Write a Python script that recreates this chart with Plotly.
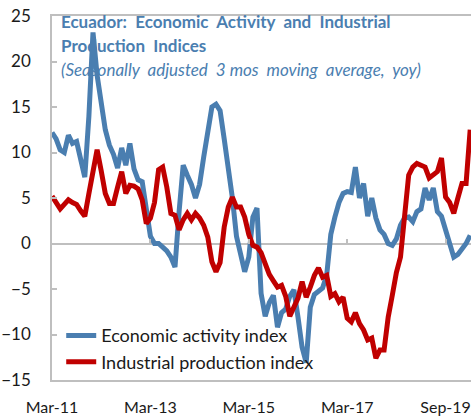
import plotly.graph_objects as go

# month index from Mar-11
months = list(range(103))

econ_activity = [
    12.2, 11.5, 10.3, 10.0, 11.9, 11.0, 11.2, 9.0, 7.3, 14.0,
    23.2, 18.5, 15.5, 12.5, 10.8, 9.8, 8.3, 10.5, 8.6, 11.0,
    8.2, 7.0, 6.8, 4.0, 0.8, 0.0, 0.0, -0.4, -0.8, -1.5,
    -2.6, 3.5, 8.6, 7.5, 6.5, 5.0, 6.5, 9.5, 12.5, 15.0,
    15.3, 14.6, 11.5, 8.5, 5.0, 0.8, -1.3, -3.1, -1.5, 2.9,
    3.9, -5.5, -8.0, -6.5, -5.7, -9.2, -7.6, -7.2, -5.8, -5.1,
    -8.1, -11.4, -13.1, -7.0, -5.6, -5.3, -4.9, -3.5, 1.0, 2.9,
    4.5, 5.5, 5.7, 5.6, 8.4, 5.0, 6.6, 3.0, 5.0, 2.8,
    1.5, 1.0, 0.0, -0.2, 0.5, 2.0, 2.8, 2.9, 2.4, 3.5,
    3.8, 6.1, 4.8, 6.1, 3.5, 3.0, 1.5, 0.0, -1.5, -1.2,
    -0.6, 0.0, 0.9,
]

industrial_production = [
    5.2, 4.5, 3.8, 4.3, 4.8, 4.5, 4.3, 3.6, 3.0, 5.5,
    7.8, 10.3, 8.0, 5.5, 4.4, 4.4, 6.2, 7.9, 5.5, 6.4,
    6.3, 6.0, 4.8, 2.2, 2.8, 4.5, 8.1, 8.4, 6.2, 3.3,
    3.1, 1.5, 2.6, 3.3, 2.6, 3.3, 2.8, 2.0, 0.7, -2.0,
    -3.1, -2.1, 1.8, 4.0, 5.1, 4.0, 4.0, 2.9, 1.0, -0.2,
    -0.4, -1.0, -2.2, -3.4, -4.1, -4.8, -4.6, -5.8, -8.0, -7.0,
    -6.0, -4.2, -5.9, -4.8, -3.5, -2.7, -3.7, -3.5, -5.8, -5.5,
    -6.4, -5.9, -8.2, -8.6, -7.6, -8.8, -9.5, -10.6, -10.4, -12.6,
    -11.7, -11.7, -8.1, -5.7, -3.2, -1.5, 2.5, 7.5, 8.4, 8.8,
    8.6, 8.4, 7.2, 7.5, 7.9, 9.4, 5.1, 4.5, 3.3, 5.0,
    6.6, 6.6, 12.5,
]

tick_positions = [0, 24, 48, 72, 96]
tick_labels = ["Mar-11", "Mar-13", "Mar-15", "Mar-17", "Sep-19"]
y_ticks = [-15, -10, -5, 0, 5, 10, 15, 20, 25]

BLUE = "#4A7EB0"
RED = "#C00000"
GRAY = "#BFBFBF"
FONT = "Lato"

fig = go.Figure()
fig.add_trace(go.Scatter(
    x=months, y=econ_activity, mode="lines", name="Economic activity index",
    line=dict(color=BLUE, width=5),
))
fig.add_trace(go.Scatter(
    x=months, y=industrial_production, mode="lines", name="Industrial production index",
    line=dict(color=RED, width=5), xaxis="x2",
))

xr = [0, 102.2]
fig.update_layout(
    width=471, height=417,
    margin=dict(l=52, r=0, t=16, b=37, autoexpand=False),
    paper_bgcolor="white", plot_bgcolor="white",
    font=dict(family=FONT, size=16, color="#1a1a1a"),
    showlegend=True,
    legend=dict(
        x=0.022, y=0.086, xanchor="left", yanchor="middle",
        bgcolor="rgba(0,0,0,0)", font=dict(size=18, color="#1a1a1a"),
        tracegroupgap=0,
    ),
    xaxis=dict(
        range=xr, tickmode="array", tickvals=tick_positions, ticktext=tick_labels,
        showgrid=False, zeroline=False, showline=True, linecolor=GRAY, linewidth=1.5,
        mirror=True, ticks="", ticklabelstandoff=12, automargin=False,
        tickfont=dict(size=16),
    ),
    xaxis2=dict(
        range=xr, overlaying="x", anchor="free", position=15 / 40, side="bottom",
        tickmode="array", tickvals=tick_positions, showticklabels=False,
        ticks="inside", ticklen=5, tickcolor=GRAY, tickwidth=1.5,
        showgrid=False, zeroline=False, showline=False, automargin=False,
    ),
    yaxis=dict(
        range=[-15, 25], tickmode="array", tickvals=y_ticks,
        showgrid=False, zeroline=True, zerolinecolor=GRAY, zerolinewidth=1.5,
        showline=True, linecolor=GRAY, linewidth=1.5, mirror=False,
        ticks="inside", ticklen=5, tickcolor=GRAY, tickwidth=1.5,
        ticklabelstandoff=16, automargin=False, tickfont=dict(size=17),
    ),
)

fig.add_annotation(
    xref="paper", yref="paper", x=0.017, y=0.986, xanchor="left", yanchor="middle",
    text="<b>Ecuador:  Economic  Activity  and  Industrial</b>", showarrow=False,
    font=dict(family=FONT, size=17, color=BLUE),
)
fig.add_annotation(
    xref="paper", yref="paper", x=0.017, y=0.92, xanchor="left", yanchor="middle",
    text="<b>Production  Indices</b>", showarrow=False,
    font=dict(family=FONT, size=17, color=BLUE),
)
fig.add_annotation(
    xref="paper", yref="paper", x=0.017, y=0.854, xanchor="left", yanchor="middle",
    text="<i>(Seasonally  adjusted  3 mos  moving  average,  yoy)</i>", showarrow=False,
    font=dict(family=FONT, size=17, color=BLUE),
)

fig.write_html(
    "out.html",
    config={"displayModeBar": False},
    post_script="document.body.style.margin='0';document.body.style.overflow='hidden';",
)
